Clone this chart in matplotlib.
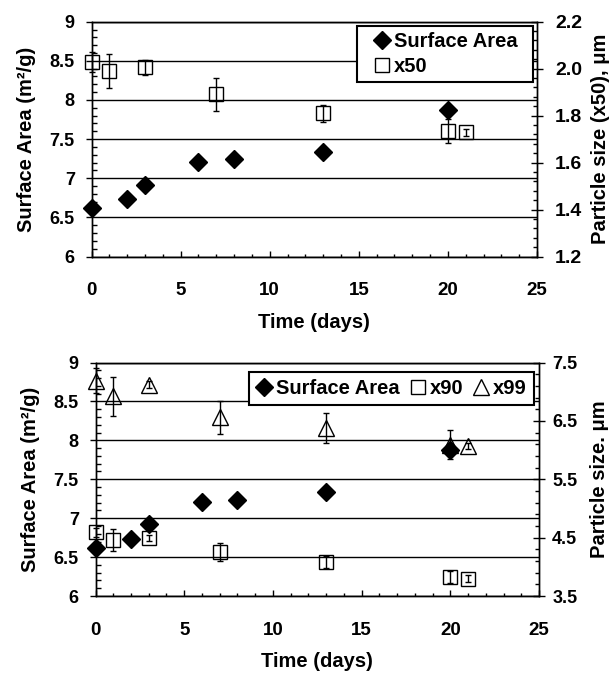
import numpy as np
import matplotlib
matplotlib.use("Agg")
import matplotlib.pyplot as plt
from matplotlib.ticker import MultipleLocator, FixedLocator, FormatStrFormatter

plt.rcParams['font.family'] = ['Liberation Sans', 'DejaVu Sans']
plt.rcParams['font.weight'] = 'bold'

# BET surface area (left axis)
days_sa = [0, 2, 3, 6, 8, 13, 20]
surface_area = [6.62, 6.73, 6.92, 7.21, 7.24, 7.34, 7.87]

# particle size distribution (right axes)
days_psd = [0, 1, 3, 7, 13, 20, 21]
x50 = [2.03, 1.99, 2.005, 1.89, 1.81, 1.735, 1.73]
x50_err = [0.043, 0.072, 0.03, 0.072, 0.035, 0.05, 0.015]
x90 = [4.59, 4.46, 4.49, 4.25, 4.08, 3.83, 3.80]
x90_err = [0.08, 0.19, 0.05, 0.15, 0.10, 0.10, 0.06]
x99 = [7.19, 6.92, 7.12, 6.56, 6.38, 6.09, 6.07]
x99_err = [0.22, 0.33, 0.06, 0.28, 0.25, 0.25, 0.05]

sa_ticks = [6, 6.5, 7, 7.5, 8, 8.5, 9]

LABEL_FS = 14.5
TICK_FS = 13.5

fig = plt.figure(figsize=(6.13, 6.74), dpi=100)
ax_top = fig.add_axes([0.1493, 0.6194, 0.7268, 0.3484])
ax_bot = fig.add_axes([0.1558, 0.1157, 0.7235, 0.3464])


def style_left(ax):
    ax.set_xlim(0, 25)
    ax.set_ylim(6, 9)
    ax.xaxis.set_major_locator(MultipleLocator(5))
    ax.xaxis.set_minor_locator(MultipleLocator(1))
    ax.yaxis.set_major_locator(FixedLocator(sa_ticks))
    ax.yaxis.set_minor_locator(MultipleLocator(0.1))
    ax.yaxis.set_major_formatter(FormatStrFormatter('%g'))
    ax.tick_params(axis='x', which='major', direction='in', length=4.3,
                   width=1, pad=18.5, labelsize=TICK_FS, top=False)
    ax.tick_params(axis='x', which='minor', direction='in', length=2.5,
                   width=1, top=False)
    ax.tick_params(axis='y', which='major', direction='out', length=4,
                   width=1, pad=8, labelsize=13, right=False)
    ax.tick_params(axis='y', which='minor', direction='in', length=3.6,
                   width=1, right=False)
    ax.grid(axis='y', which='major', color='black', lw=1.0)
    ax.set_axisbelow(True)
    for s in ax.spines.values():
        s.set_linewidth(1.0)
    ax.set_xlabel('Time (days)', fontsize=LABEL_FS, fontweight='bold', va='center')
    ax.xaxis.set_label_coords(0.5, -0.279)
    ax.set_ylabel('Surface Area (m²/g)', fontsize=LABEL_FS, fontweight='bold')
    ax.yaxis.label.set_va('center')


def style_right(axr, lo, hi, major, minor, label, xcoord, fs, pad):
    axr.set_ylim(lo, hi)
    axr.yaxis.set_major_locator(FixedLocator(np.arange(lo, hi + 1e-9, major)))
    axr.yaxis.set_minor_locator(FixedLocator(np.arange(lo, hi + 1e-9, minor)))
    axr.yaxis.set_major_formatter(FormatStrFormatter('%.1f'))
    axr.tick_params(axis='y', which='major', direction='inout', length=9,
                    width=1, pad=pad, labelsize=fs)
    axr.tick_params(axis='y', which='minor', direction='in', length=3, width=1)
    for s in axr.spines.values():
        s.set_linewidth(1.0)
    axr.set_ylabel(label, fontsize=LABEL_FS, fontweight='bold')
    axr.yaxis.label.set_va('center')
    axr.yaxis.set_label_coords(xcoord, 0.5)


def unclip(container):
    # let markers sitting on the day-0 spine show in full
    for art in container.get_children():
        art.set_clip_on(False)


eb_kw = dict(ls='none', mfc='none', mec='black', mew=1.0, ecolor='black',
             elinewidth=1.0, capsize=2.5, capthick=1.0)

# ---- top panel: surface area and x50 ----
style_left(ax_top)
ax_top.yaxis.set_label_coords(-0.146, 0.5)
sa1, = ax_top.plot(days_sa, surface_area, 'D', ms=9, color='black', ls='none',
                   clip_on=False)
axr_top = ax_top.twinx()
style_right(axr_top, 1.2, 2.2, 0.2, 0.04, 'Particle size (x50), μm', 1.1425, 14, 8.5)
eb50 = axr_top.errorbar(days_psd, x50, yerr=x50_err, fmt='s', ms=10.5, **eb_kw)
unclip(eb50)

leg1 = axr_top.legend([sa1, eb50[0]], ['Surface Area', 'x50'],
                      loc='upper left', bbox_to_anchor=(0.596, 0.0, 0.395, 0.982),
                      mode='expand', fontsize=LABEL_FS, frameon=True,
                      fancybox=False, framealpha=1, edgecolor='black',
                      borderpad=0.3, handlelength=1.9, handletextpad=-0.35,
                      labelspacing=0.28, numpoints=1, borderaxespad=0)
leg1.get_frame().set_linewidth(1.5)

# ---- bottom panel: surface area, x90 and x99 ----
style_left(ax_bot)
ax_bot.yaxis.set_label_coords(-0.146, 0.5)
sa2, = ax_bot.plot(days_sa, surface_area, 'D', ms=9, color='black', ls='none',
                   clip_on=False)
axr_bot = ax_bot.twinx()
style_right(axr_bot, 3.5, 7.5, 1.0, 0.2, 'Particle size. μm', 1.1375, 13, 5)
eb90 = axr_bot.errorbar(days_psd, x90, yerr=x90_err, fmt='s', ms=10.5, **eb_kw)
eb99 = axr_bot.errorbar(days_psd, x99, yerr=x99_err, fmt='^', ms=11, **eb_kw)
unclip(eb90)
unclip(eb99)

leg2 = axr_bot.legend([sa2, eb90[0], eb99[0]], ['Surface Area', 'x90', 'x99'],
                      loc='upper right', bbox_to_anchor=(0.988, 0.960),
                      ncol=3, fontsize=LABEL_FS, frameon=True, fancybox=False,
                      framealpha=1, edgecolor='black', borderpad=0.35,
                      handlelength=0.8, handletextpad=0.18, columnspacing=0.5,
                      numpoints=1, borderaxespad=0)
leg2.get_frame().set_linewidth(1.5)

fig.savefig('out.png', dpi=100)
